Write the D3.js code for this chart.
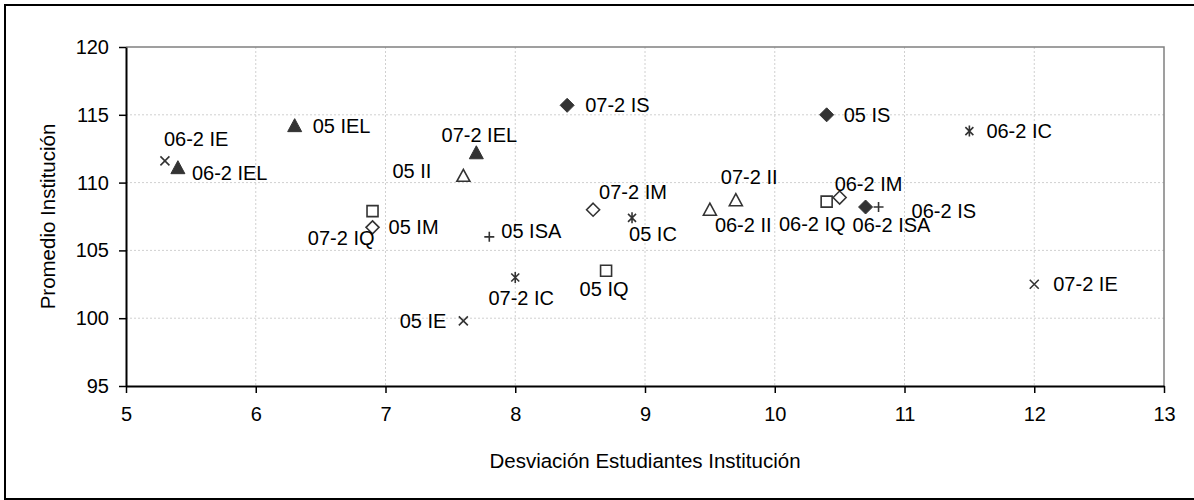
<!DOCTYPE html>
<html><head><meta charset="utf-8">
<script src="https://cdn.jsdelivr.net/npm/d3@7"></script>
<style>
html,body{margin:0;padding:0;background:#fff;}
svg{display:block;font-family:"Liberation Sans",Arial,sans-serif;}
</style></head>
<body>
<svg id="chart" width="1194" height="500"></svg>
<script>
// ---- data ----
const labels  = ["06-2 IE","06-2 IEL","05 IEL","05 II","07-2 IEL","07-2 IQ","05 IM","07-2 IS","07-2 IM","05 IC","05 ISA","06-2 II","07-2 II","06-2 IQ","06-2 IM","06-2 IS","06-2 ISA","05 IS","06-2 IC","07-2 IE","05 IQ","07-2 IC","05 IE"];
const xValues = [5.3, 5.4, 6.3, 7.6, 7.7, 6.9, 6.9, 8.4, 8.6, 8.9, 7.8, 9.5, 9.7, 10.4, 10.5, 10.7, 10.8, 10.4, 11.5, 12.0, 8.7, 8.0, 7.6];
const yValues = [111.6, 111.1, 114.2, 110.5, 112.2, 107.9, 106.7, 115.7, 108.0, 107.4, 106.0, 108.0, 108.7, 108.6, 108.9, 108.2, 108.2, 115.0, 113.8, 102.5, 103.5, 103.0, 99.8];
const groups  = ["IE","IEL","IEL","II","IEL","IQ","IM","IS","IM","IC","ISA","II","II","IQ","IM","IS","ISA","IS","IC","IE","IQ","IC","IE"];
const xTicks = [5,6,7,8,9,10,11,12,13];
const yTicks = [95,100,105,110,115,120];
const xTitle = "Desviación Estudiantes Institución";
const yTitle = "Promedio Institución";

// ---- layout ----
const L = 126, R = 1164, T = 47, B = 386;
const labelLayout = {
  "06-2 IE":[-1,-22,"start"], "06-2 IEL":[14,5,"start"], "05 IEL":[18,0,"start"],
  "05 II":[-32,-5,"end"], "07-2 IEL":[3,-18,"middle"], "07-2 IQ":[2,27,"end"],
  "05 IM":[16,0,"start"], "07-2 IS":[18,0,"start"], "07-2 IM":[6,-18,"start"],
  "05 IC":[-3,16,"start"], "05 ISA":[12,-6,"start"], "06-2 II":[5,15,"start"],
  "07-2 II":[-15,-23,"start"], "06-2 IQ":[19,22,"end"], "06-2 IM":[-5,-14,"start"],
  "06-2 IS":[46,4,"start"], "06-2 ISA":[-26,18,"start"], "05 IS":[17,0,"start"],
  "06-2 IC":[17,0,"start"], "07-2 IE":[19,0,"start"], "05 IQ":[-2,18,"middle"],
  "07-2 IC":[6,20,"middle"], "05 IE":[-17,0,"end"]
};
const markColor = "#333333";

const svg = d3.select("#chart");
svg.append("rect").attr("x",5).attr("y",5).attr("width",1200).attr("height",494)
  .attr("fill","#fff").attr("stroke","#000").attr("stroke-width",2);

const x = d3.scaleLinear().domain([5,13]).range([L,R]);
const y = d3.scaleLinear().domain([95,120]).range([B,T]);

// gridlines
svg.append("g").selectAll("line").data(xTicks.slice(1,-1)).join("line")
  .attr("x1",d=>x(d)).attr("x2",d=>x(d)).attr("y1",T).attr("y2",B)
  .attr("stroke","#d0d0d0").attr("stroke-dasharray","2,2").attr("stroke-width",1);
svg.append("g").selectAll("line").data(yTicks.slice(1,-1)).join("line")
  .attr("x1",L).attr("x2",R).attr("y1",d=>y(d)).attr("y2",d=>y(d))
  .attr("stroke","#d0d0d0").attr("stroke-dasharray","2,2").attr("stroke-width",1);

// plot border top/right
svg.append("path").attr("d",`M${L},${T}H${R}V${B}`).attr("fill","none")
  .attr("stroke","#808080").attr("stroke-width",1.5);

// axes
const xAxis = svg.append("g").attr("transform",`translate(0,${B})`)
  .call(d3.axisBottom(x).tickValues(xTicks).tickFormat(d3.format("d")).tickSizeInner(7).tickSizeOuter(0).tickPadding(14));
const yAxis = svg.append("g").attr("transform",`translate(${L},0)`)
  .call(d3.axisLeft(y).tickValues(yTicks).tickFormat(d3.format("d")).tickSizeInner(7).tickSizeOuter(0).tickPadding(10));
[xAxis,yAxis].forEach(a=>{
  a.select(".domain").attr("stroke","#000").attr("stroke-width",2);
  a.selectAll(".tick line").attr("stroke","#000").attr("stroke-width",1.5);
  a.selectAll(".tick text").attr("font-size",20).attr("fill","#000")
    .attr("font-family","'Liberation Sans',Arial,sans-serif");
});

// axis titles
svg.append("text").attr("x",(L+R)/2).attr("y",460).attr("text-anchor","middle")
  .attr("dominant-baseline","central").attr("font-size",20.5).text(xTitle);
svg.append("text").attr("transform",`translate(47,${(T+B)/2}) rotate(-90)`)
  .attr("text-anchor","middle").attr("dominant-baseline","central").attr("font-size",20.5).text(yTitle);

// markers
function markerPath(g){
  switch(g){
    case "IS":  return "M0,-7L7,0L0,7L-7,0Z";
    case "IM":  return "M0,-6.5L6.5,0L0,6.5L-6.5,0Z";
    case "IEL": return "M0,-7L7,6L-7,6Z";
    case "II":  return "M0,-6.5L6.5,5.5L-6.5,5.5Z";
    case "IQ":  return "M-5.5,-5.5H5.5V5.5H-5.5Z";
    case "IE":  return "M-4.5,-4.5L4.5,4.5M4.5,-4.5L-4.5,4.5";
    case "ISA": return "M-5,0H5M0,-5V5";
    case "IC":  return "M-4,-4L4,4M4,-4L-4,4M0,-5.5V5.5";
  }
}
const filled = {IS:true, IEL:true};
const idx = d3.range(labels.length);
svg.append("g").selectAll("path").data(idx).join("path")
  .attr("transform",i=>`translate(${x(xValues[i])},${y(yValues[i])})`)
  .attr("d",i=>markerPath(groups[i]))
  .attr("fill",i=>filled[groups[i]]?markColor:"none")
  .attr("stroke",markColor)
  .attr("stroke-width",i=>filled[groups[i]]?1:1.6)
  .attr("stroke-linejoin","miter");

// labels
svg.append("g").selectAll("text").data(idx).join("text")
  .attr("x",i=>x(xValues[i])+labelLayout[labels[i]][0])
  .attr("y",i=>y(yValues[i])+labelLayout[labels[i]][1])
  .attr("text-anchor",i=>labelLayout[labels[i]][2])
  .attr("dominant-baseline","central")
  .attr("font-size",20).attr("fill","#000")
  .text(i=>labels[i]);
</script>
</body></html>
